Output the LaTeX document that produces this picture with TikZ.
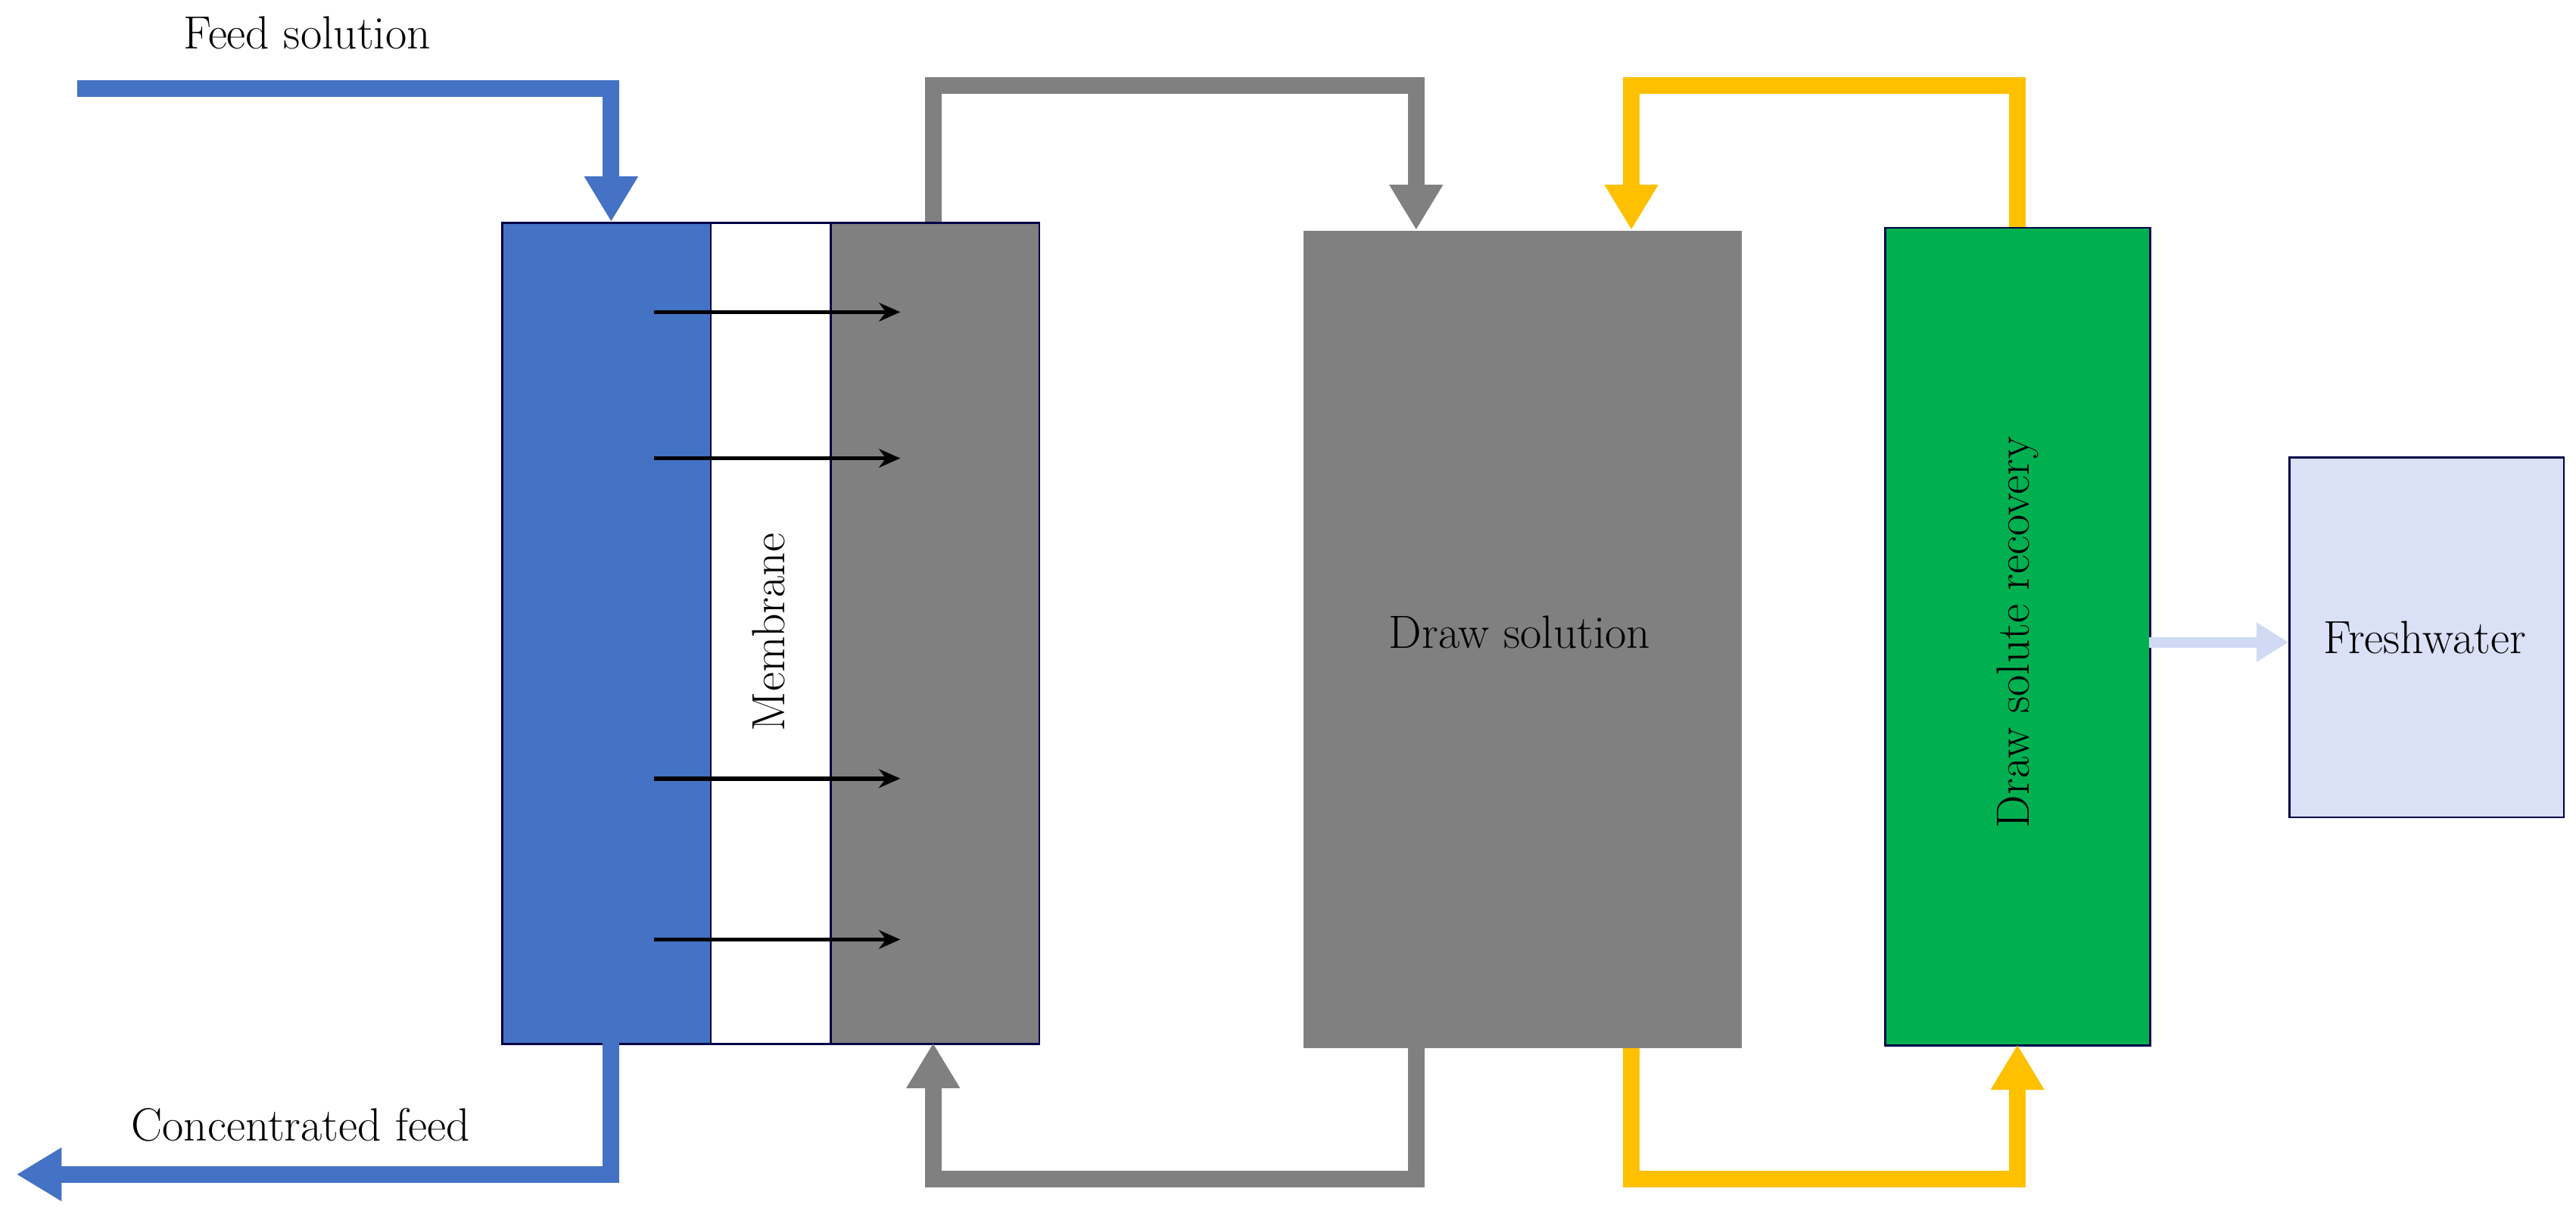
\documentclass[tikz,border=0pt]{standalone}
\usetikzlibrary{arrows.meta}
\begin{document}
\begin{tikzpicture}[x=0.021703cm,y=-0.021703cm,
  pipe/.style={line width=6.3pt,-{Triangle[length=17pt,width=19pt]}},
  box/.style={draw=black!60!blue!70!black,line width=0.8pt,anchor=north west,inner sep=0},
  lbl/.style={font=\fontsize{17.5}{20}\selectfont},
  flux/.style={line width=1.6pt,-{Stealth[length=8pt,width=7pt]}}]
\def\uu{0.021703cm}
\definecolor{fblue}{HTML}{4472C4}
\definecolor{dgray}{HTML}{808080}
\definecolor{dgreen}{HTML}{00B050}
\definecolor{dyel}{HTML}{FFC000}
\definecolor{lav}{HTML}{DAE0F5}
\definecolor{arr}{HTML}{D0DAF3}
\useasboundingbox (0,0) rectangle (1568,746);
% module
\node[box,fill=fblue,minimum width=127*\uu,minimum height=500*\uu] (feed) at (305,135) {};
\node[box,fill=white,minimum width=73*\uu,minimum height=500*\uu] (mem) at (432,135) {};
\node[box,fill=dgray,minimum width=127*\uu,minimum height=500*\uu] (perm) at (505,135) {};
\node[lbl,rotate=90] (memt) at (468,385) {Membrane};
\foreach \y/\n in {190/a,279/b,474/c,572/d}{
  \coordinate (s\n) at (398,\y); \coordinate (e\n) at (548,\y);
  \draw[flux] (s\n) -- (e\n);}
% draw solution
\node[fill=dgray,anchor=north west,inner sep=0,minimum width=267*\uu,minimum height=498*\uu] (ds) at (793,140) {};
\node[lbl] at (925,385) {Draw solution};
% recovery
\node[box,fill=dgreen,minimum width=161*\uu,minimum height=498*\uu] (rec) at (1147,138) {};
\node[lbl,rotate=90] at (1228,385) {Draw solute recovery};
% freshwater
\node[box,fill=lav,minimum width=167*\uu,minimum height=219*\uu] (fw) at (1393,278) {};
\node[lbl] at (1476,388) {Freshwater};
% pipes
\coordinate (f0) at (47,54);
\draw[pipe,fblue] (f0) -| (372,135);
\coordinate (c0) at (10,715);
\draw[pipe,fblue] (372,635) |- (c0);
\draw[pipe,dgray] (568,135) |- (862,52) -- (862,140);
\draw[pipe,dgray] (862,638) |- (568,718) -- (568,635);
\draw[pipe,dyel] (1228,138) |- (993,52) -- (993,140);
\draw[pipe,dyel] (993,638) |- (1228,718) -- (1228,636);
\draw[line width=4pt,arr,-{Triangle[length=12pt,width=14pt]}] (1308,391) -- (1393,391);
\node[lbl] at (187,20) {Feed solution};
\node[lbl] at (183,685) {Concentrated feed};
\end{tikzpicture}
\end{document}
